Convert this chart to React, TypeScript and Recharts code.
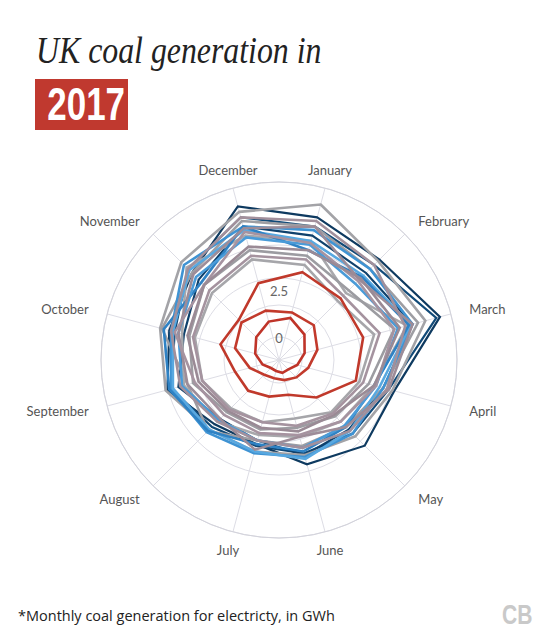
import { RadarChart, Radar, PolarGrid, PolarAngleAxis, PolarRadiusAxis } from 'recharts'

// values, in the chart's own radial units
const months = [
  'January', 'February', 'March', 'April', 'May', 'June',
  'July', 'August', 'September', 'October', 'November', 'December',
]

const y1998 = [7.4, 7.1, 8.4, 5.9, 6.0, 5.3, 4.2, 4.4, 5.7, 5.6, 6.1, 8.0]
const y1999 = [6.9, 6.7, 8.2, 5.6, 5.1, 4.7, 4.3, 4.6, 5.5, 5.3, 6.4, 7.4]
const y2000 = [6.4, 6.1, 6.9, 5.3, 4.8, 4.8, 4.0, 4.0, 5.1, 4.8, 5.6, 6.9]
const y2001 = [6.7, 6.4, 6.9, 5.3, 5.1, 4.9, 4.7, 5.0, 5.5, 5.5, 6.7, 6.9]
const y2002 = [6.1, 5.9, 6.8, 5.1, 4.9, 5.0, 4.6, 4.8, 5.4, 5.4, 6.3, 6.7]
const y2003 = [5.6, 5.8, 6.7, 4.8, 4.6, 4.6, 4.2, 4.9, 5.6, 5.9, 5.4, 6.9]
const y2004 = [5.9, 5.3, 6.1, 4.9, 4.5, 4.4, 4.0, 4.1, 4.9, 5.1, 5.8, 6.3]
const y2005 = [8.1, 7.0, 7.6, 5.8, 5.3, 4.8, 4.6, 4.8, 5.8, 6.1, 6.9, 7.7]
const y2006 = [6.9, 6.4, 7.2, 5.3, 4.6, 4.3, 4.0, 4.9, 4.6, 6.0, 6.1, 7.2]
const y2007 = [6.1, 4.6, 6.6, 4.8, 4.2, 3.8, 3.7, 4.2, 4.8, 4.9, 6.5, 6.4]
const y2008 = [5.3, 4.8, 5.9, 4.5, 3.8, 3.3, 3.4, 3.5, 4.3, 4.5, 5.2, 5.6]
const y2009 = [4.8, 4.0, 4.8, 4.0, 3.5, 2.8, 3.0, 3.2, 3.8, 4.2, 4.6, 5.1]
const y2010 = [7.2, 6.7, 6.5, 5.5, 4.9, 4.4, 4.0, 4.2, 5.0, 5.5, 6.4, 7.4]
const y2011 = [6.9, 5.6, 6.9, 5.6, 4.6, 3.8, 4.5, 4.0, 4.6, 5.1, 6.0, 6.8]
const y2012 = [6.0, 5.5, 5.9, 4.9, 4.2, 3.7, 3.6, 3.7, 4.2, 5.3, 5.2, 6.6]
const y2013 = [5.6, 5.7, 6.2, 4.8, 3.7, 3.5, 3.3, 3.4, 4.0, 4.6, 5.2, 5.8]
const y2014 = [5.1, 4.4, 5.1, 4.2, 3.6, 3.2, 3.0, 3.3, 3.8, 4.3, 4.8, 5.3]
const y2015 = [4.4, 4.2, 4.2, 3.8, 2.4, 1.5, 1.6, 1.9, 2.0, 2.8, 2.6, 3.8]
const y2016 = [2.2, 2.2, 1.7, 1.2, 0.9, 0.7, 0.6, 0.7, 1.2, 2.0, 2.4, 2.3]
const y2017 = [1.9, 1.5, 1.0, 0.6, 0.3, 0.3, 0.2, 0.2, 0.5, 0.9, 1.3, 1.7]

const years = [
  '1998', '1999', '2000', '2001', '2002', '2003', '2004', '2005', '2006', '2007',
  '2008', '2009', '2010', '2011', '2012', '2013', '2014', '2015', '2016', '2017',
]
const series = [
  y1998, y1999, y2000, y2001, y2002, y2003, y2004, y2005, y2006, y2007,
  y2008, y2009, y2010, y2011, y2012, y2013, y2014, y2015, y2016, y2017,
]
const radiusTicks = [0, 2.5]

const colors = [
  '#0e3a60', '#114a78', '#0f416c',
  '#3f93d3', '#58a8e0', '#2f82c4', '#4a9bd8',
  '#a3a3a7', '#9e9ea3', '#a8a8ac', '#9c9ca1', '#a6a6aa',
  '#a2909c', '#9d8c98', '#a693a0', '#9a8a95', '#a5939f',
  '#c0392b', '#c23a2c', '#bf3429',
]

// draw order: navy, greys, blues, mauves, reds
const drawOrder = [0, 1, 2, 7, 8, 9, 3, 4, 5, 6, 10, 11, 12, 13, 14, 15, 16, 17, 18, 19]

const data = months.map((month, i) => {
  const row: Record<string, string | number> = { month }
  years.forEach((y, j) => { row[y] = series[j][i] })
  return row
})

const CX = 279
const CY = 210
const R = 178

const MonthTick = (props: any) => {
  const { x, y, payload } = props
  const dx = x - CX
  const anchor = Math.abs(dx) < 80 ? 'middle' : dx > 0 ? 'start' : 'end'
  return (
    <text x={x} y={y} textAnchor={anchor} dominantBaseline="central"
      fill="#555" fontSize={13} fontFamily="Lato, 'Open Sans', sans-serif">
      {payload.value}
    </text>
  )
}

const RadiusTick = (props: any) => {
  const { x, y, payload } = props
  if (!radiusTicks.includes(payload.value)) return null
  return (
    <text x={x} y={y - 14} textAnchor="middle" dominantBaseline="central"
      fill="#666" fontSize={13} fontFamily="Lato, 'Open Sans', sans-serif">
      {payload.value}
    </text>
  )
}

export default function App() {
  return (
    <div style={{ position: 'absolute', left: 0, top: 0, width: 548, height: 640, background: '#fff' }}>
      <div style={{
        position: 'absolute', left: 36, top: 29, fontFamily: "'Liberation Serif', serif",
        fontStyle: 'italic', fontSize: 37, color: '#222', whiteSpace: 'nowrap',
        transform: 'scaleX(0.86)', transformOrigin: 'left top',
      }}>
        UK coal generation in
      </div>
      <div style={{
        position: 'absolute', left: 35, top: 79, width: 93, height: 51, background: '#c0392f',
        color: '#fff', textAlign: 'center', overflow: 'hidden',
      }}>
        <span style={{
          display: 'inline-block', fontFamily: "'Liberation Sans', sans-serif", fontWeight: 700,
          fontSize: 46, lineHeight: '51px', transform: 'scaleX(0.76)',
        }}>
          2017
        </span>
      </div>

      <div style={{ position: 'absolute', left: 0, top: 150 }}>
        <RadarChart width={548} height={420} data={data} cx={CX} cy={CY}
          outerRadius={R} startAngle={75} endAngle={-285}>
          <PolarGrid gridType="circle" stroke="#dddde5"
            polarRadius={[23, 55, 82, 115, 178]} />
          <PolarAngleAxis dataKey="month" tick={MonthTick} tickLine={false}
            tickSize={19} axisLineType="circle" axisLine={{ stroke: '#d3d3db' }} />
          <PolarRadiusAxis angle={90} domain={[-0.4, 8.9]} ticks={radiusTicks}
            axisLine={false} tickLine={false} tick={RadiusTick} />
          {drawOrder.map((j) => (
            <Radar key={years[j]} dataKey={years[j]} stroke={colors[j]} strokeWidth={j < 3 ? 2.2 : 2.6}
              fill="none" fillOpacity={0} dot={false} isAnimationActive={false} />
          ))}
        </RadarChart>
      </div>

      <div style={{
        position: 'absolute', left: 18, top: 606, fontFamily: "'Open Sans', Lato, sans-serif",
        fontSize: 14.5, color: '#222', whiteSpace: 'nowrap',
      }}>
        *Monthly coal generation for electricty, in GWh
      </div>
      <div style={{
        position: 'absolute', left: 502, top: 600, fontFamily: "'Liberation Sans', sans-serif",
        fontWeight: 700, fontSize: 27, lineHeight: '30px', color: '#c9c9c9',
        transform: 'scaleX(0.78)', transformOrigin: 'left top',
      }}>
        CB
      </div>
    </div>
  )
}
